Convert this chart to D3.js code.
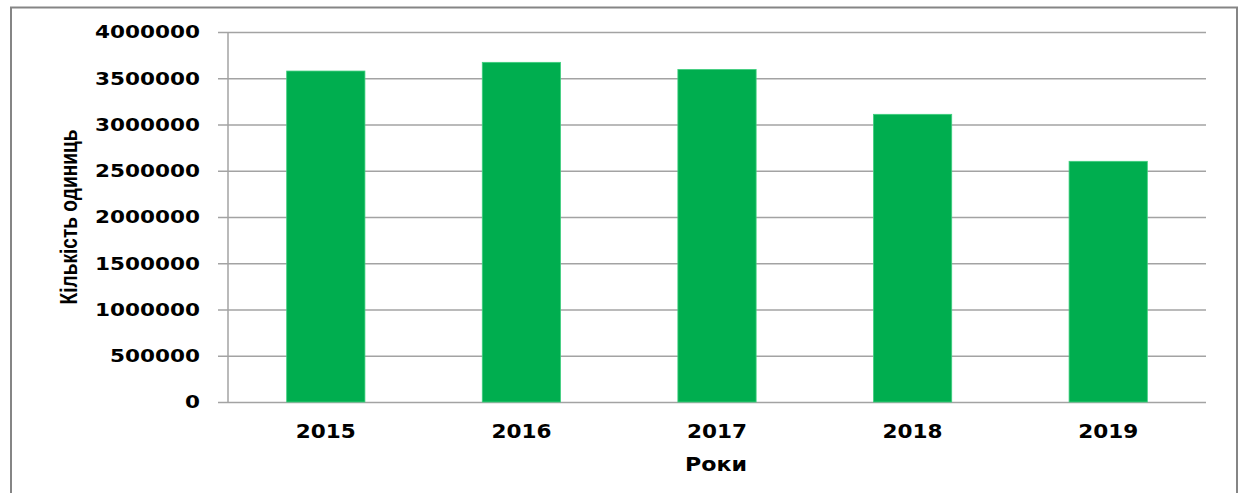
<!DOCTYPE html>
<html lang="uk">
<head>
<meta charset="utf-8">
<script src="https://cdn.jsdelivr.net/npm/d3@7"></script>
<style>
  html, body { margin: 0; padding: 0; background: #fff; }
  svg { display: block; }
</style>
</head>
<body>
<svg id="chart" width="1240" height="493"></svg>
<script>
// Кількість одиниць за роками
const years = ["2015", "2016", "2017", "2018", "2019"];
const units = [3578000, 3672000, 3595000, 3110000, 2602000];
const yTicks = [0, 500000, 1000000, 1500000, 2000000, 2500000, 3000000, 3500000, 4000000];
const yTitle = "Кількість одиниць";
const xTitle = "Роки";

const svg = d3.select("#chart");
const plot = { left: 228, right: 1206, top: 32, bottom: 402 };

// outer frame of the chart area
svg.append("rect")
  .attr("x", 11).attr("y", 7.5)
  .attr("width", 1226).attr("height", 500)
  .attr("fill", "#fff")
  .attr("stroke", "#858585")
  .attr("stroke-width", 2);

const x = d3.scaleBand()
  .domain(years)
  .range([plot.left, plot.right])
  .paddingInner(0.6)
  .paddingOuter(0.3);

const y = d3.scaleLinear()
  .domain([0, 4000000])
  .range([plot.bottom, plot.top]);

// horizontal gridlines, extended left past the axis as tick marks
const gy = svg.append("g")
  .attr("transform", `translate(${plot.right},0)`)
  .call(d3.axisLeft(y).tickValues(yTicks).tickSize(plot.right - plot.left + 10).tickFormat(""));
gy.select(".domain").remove();
gy.selectAll(".tick line")
  .attr("stroke", "#a3a3a3")
  .attr("stroke-width", 1.5);

// vertical axis line
svg.append("line")
  .attr("x1", plot.left).attr("x2", plot.left)
  .attr("y1", y(4000000)).attr("y2", plot.bottom)
  .attr("stroke", "#a3a3a3")
  .attr("stroke-width", 1.5);

// bars
svg.append("g")
  .selectAll("rect")
  .data(years.map((yr, i) => ({ yr, v: units[i] })))
  .join("rect")
  .attr("x", d => x(d.yr))
  .attr("y", d => y(d.v))
  .attr("width", x.bandwidth())
  .attr("height", d => y(0) - y(d.v))
  .attr("fill", "#00ae4f")
  .attr("stroke", "#3fcf7e")
  .attr("stroke-width", 0.8);

// y tick labels
svg.append("g")
  .selectAll("text")
  .data(yTicks)
  .join("text")
  .attr("x", 200)
  .attr("y", d => y(d) + 6.3)
  .attr("text-anchor", "end")
  .attr("font-family", "DejaVu Sans, Verdana, sans-serif")
  .attr("font-weight", "bold")
  .attr("font-size", 17)
  .attr("fill", "#000")
  .each(function (d) {
    const s = String(d);
    d3.select(this).text(s)
      .attr("textLength", s.length * 15)
      .attr("lengthAdjust", "spacingAndGlyphs");
  });

// x tick labels
svg.append("g")
  .selectAll("text")
  .data(years)
  .join("text")
  .attr("x", d => x(d) + x.bandwidth() / 2)
  .attr("y", 437.5)
  .attr("text-anchor", "middle")
  .attr("font-family", "DejaVu Sans, Verdana, sans-serif")
  .attr("font-weight", "bold")
  .attr("font-size", 19.5)
  .attr("fill", "#000")
  .attr("textLength", 60)
  .attr("lengthAdjust", "spacingAndGlyphs")
  .text(d => d);

// axis titles
svg.append("text")
  .attr("x", (plot.left + plot.right) / 2 - 1)
  .attr("y", 471)
  .attr("text-anchor", "middle")
  .attr("font-family", "DejaVu Sans, Verdana, sans-serif")
  .attr("font-weight", "bold")
  .attr("font-size", 19)
  .attr("textLength", 62)
  .attr("lengthAdjust", "spacingAndGlyphs")
  .attr("fill", "#000")
  .text(xTitle);

svg.append("text")
  .attr("transform", "translate(77,217) rotate(-90)")
  .attr("text-anchor", "middle")
  .attr("font-family", "Liberation Sans Narrow, Arial Narrow, Liberation Sans, Arial, sans-serif")
  .attr("font-weight", "bold")
  .attr("font-size", 23.5)
  .attr("textLength", 175)
  .attr("lengthAdjust", "spacingAndGlyphs")
  .attr("fill", "#000")
  .text(yTitle);
</script>
</body>
</html>
